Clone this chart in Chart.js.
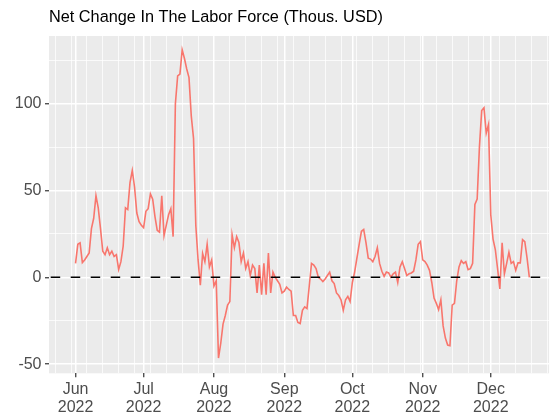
<!DOCTYPE html>
<html><head><meta charset="utf-8">
<script src="https://cdn.jsdelivr.net/npm/chart.js@4.4.1/dist/chart.umd.min.js"></script>
<style>html,body{margin:0;padding:0;background:#fff;}canvas{display:block;}</style>
</head><body>
<canvas id="c" width="550" height="419"></canvas>
<script>
// ---- data ----
const titleText = 'Net Change In The Labor Force (Thous. USD)';
const startDate = '2022-06-01'; // day 0 of the series; one value per day
const values = [
  8, 19, 19.8, 8.5, 10, 12, 14, 28, 34, 47,
  40, 28, 15, 13, 17, 13, 15, 12, 13, 4.5,
  9, 18, 40, 39, 54.5, 61.5, 52, 37, 32, 30,
  28.6, 38, 39.5, 48, 45, 35, 27, 26, 47, 24,
  30, 36, 39.5, 23.4, 100, 116, 117, 131, 126, 120,
  115, 93, 80, 30, 10, -4.5, 13.7, 9, 19, 6,
  10, -5, -2, -46.5, -38, -27, -22, -16, -14, 24.5,
  17, 23.4, 20, 9, 14, 5, 9, 1, 7, 5,
  -9, 7, -10, 8, -10, 14, -9, 3, 0, -2,
  -4, -9, -8, -5.6, -7, -8, -22, -22, -26, -26.6,
  -19, -17, -18, -5, 8, 7, 5, 0, -1, -2.5,
  -1, 1, 3, -2, -3.6, -9, -10.5, -13, -19, -13,
  -11, -14, -3, 3, 11, 19, 26.5, 27.5, 20, 11,
  10.5, 9, 12, 17, 8, 3.5, 0.5, 3, 2.5, 0,
  2, 3, -3, 6, 9, 5, 1, 2, 2.5, 3.5,
  10, 19, 20.5, 10, 9, 7, 4, -3, -12, -15,
  -18.6, -13, -28, -35, -39, -39.4, -16, -15, -2, 6,
  9.6, 8, 9, 4.4, 5, 8, 42, 45, 75, 96,
  97.6, 83, 88, 36, 22, 16, 5, -6.7, 19.8, 2,
  8, 14.4, 8, 9, 4, 8.3, 8.3, 21.7, 20.5, 11,
  0
];
const monthTickDays = [0, 30, 61, 92, 122, 153, 183];
const monthTickLabels = [['Jun','2022'],['Jul','2022'],['Aug','2022'],['Sep','2022'],['Oct','2022'],['Nov','2022'],['Dec','2022']];
const weekGridDays = [-9, -2, 5, 12, 19, 26, 33, 40, 47, 54, 61, 68, 75, 82, 89, 96, 103, 110, 117, 124, 131, 138, 145, 152, 159, 166, 173, 180, 187, 194, 201, 208];
const yMajorTicks = [-50, 0, 50, 100];
const yMinorTicks = [-25, 25, 75, 125];
const xRange = [-11.7, 208.7];
const yRange = [-55.3, 139];
const zeroLevel = 0;

// ---- chart ----
const FONT = "'Liberation Sans', Arial, sans-serif";
Chart.defaults.font.family = FONT;

const allX = [...new Set([...weekGridDays, ...monthTickDays])].sort((a, b) => a - b);
const allY = [...yMajorTicks, ...yMinorTicks].sort((a, b) => a - b);
const isMajorX = v => monthTickDays.includes(v);
const isMajorY = v => yMajorTicks.includes(v);

const panelBg = {
  id: 'panelBg',
  beforeDraw(chart) {
    const { ctx, chartArea: a } = chart;
    ctx.save();
    ctx.fillStyle = '#EBEBEB';
    ctx.fillRect(a.left, a.top, a.right - a.left, a.bottom - a.top);
    ctx.restore();
  }
};

new Chart(document.getElementById('c'), {
  type: 'line',
  data: {
    datasets: [
      {
        label: 'zero',
        data: [{ x: xRange[0], y: zeroLevel }, { x: xRange[1], y: zeroLevel }],
        borderColor: '#000000',
        borderWidth: 1.6,
        borderDash: [9.5, 10.5],
        borderDashOffset: 18.3,
        pointRadius: 0,
        order: 0
      },
      {
        label: 'Net change',
        data: values.map((v, i) => ({ x: i, y: v })),
        borderColor: '#F8766D',
        borderWidth: 1.6,
        pointRadius: 0,
        tension: 0,
        order: 1
      }
    ]
  },
  options: {
    responsive: false,
    animation: false,
    devicePixelRatio: 1,
    layout: { padding: 0 },
    plugins: {
      legend: { display: false },
      tooltip: { enabled: false },
      title: {
        display: true,
        text: titleText,
        align: 'start',
        fullSize: false,
        color: '#000000',
        font: { family: FONT, size: 16.3, weight: 'normal', lineHeight: 1.2 },
        padding: { top: 7.4, bottom: 9.0 }
      }
    },
    scales: {
      x: {
        type: 'linear',
        min: xRange[0],
        max: xRange[1],
        afterBuildTicks: s => { s.ticks = allX.map(v => ({ value: v })); },
        afterFit: s => { s.height = 45.7; },
        ticks: {
          autoSkip: false, maxRotation: 0, minRotation: 0, padding: 2.5,
          color: '#4D4D4D',
          font: { family: FONT, size: 16, lineHeight: 1.17 },
          callback: v => { const i = monthTickDays.indexOf(v); return i >= 0 ? monthTickLabels[i] : ''; }
        },
        grid: {
          color: '#FFFFFF',
          lineWidth: c => (c.tick && isMajorX(c.tick.value)) ? 1.5 : 0.75,
          tickColor: c => (c.tick && isMajorX(c.tick.value)) ? '#333333' : 'rgba(0,0,0,0)',
          tickLength: 4,
          tickWidth: 1.2
        },
        border: { display: false }
      },
      y: {
        type: 'linear',
        min: yRange[0],
        max: yRange[1],
        afterBuildTicks: s => { s.ticks = allY.map(v => ({ value: v })); },
        afterFit: s => { s.width = 49; },
        ticks: {
          autoSkip: false, padding: 3.5,
          color: '#4D4D4D',
          font: { family: FONT, size: 16 },
          callback: v => isMajorY(v) ? String(v) : ''
        },
        grid: {
          color: '#FFFFFF',
          lineWidth: c => (c.tick && isMajorY(c.tick.value)) ? 1.5 : 0.75,
          tickColor: c => (c.tick && isMajorY(c.tick.value)) ? '#333333' : 'rgba(0,0,0,0)',
          tickLength: 4,
          tickWidth: 1.2
        },
        border: { display: false }
      }
    }
  },
  plugins: [panelBg]
});
</script>
</body></html>
